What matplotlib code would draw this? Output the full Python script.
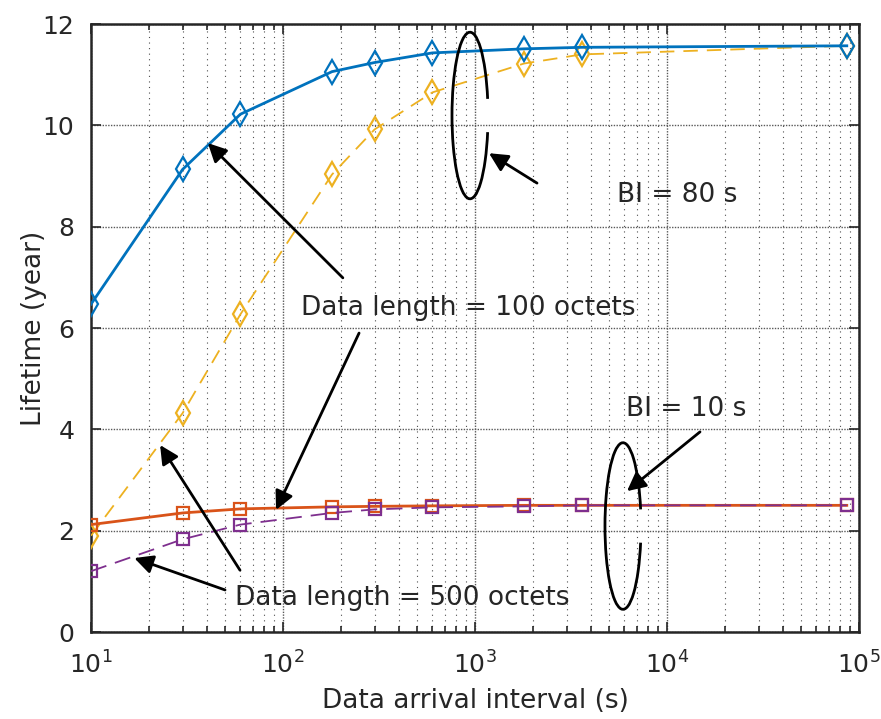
import matplotlib
matplotlib.use("Agg")
import matplotlib.pyplot as plt
from matplotlib.patches import Arc
from matplotlib.ticker import LogLocator, FixedLocator

plt.rcParams['font.family'] = ['DejaVu Sans']
plt.rcParams['mathtext.fontset'] = 'dejavusans'

interval = [10, 30, 60, 180, 300, 600, 1800, 3600, 86400]
bi80_len100 = [6.47, 9.13, 10.22, 11.06, 11.24, 11.43, 11.51, 11.54, 11.57]
bi80_len500 = [1.90, 4.32, 6.27, 9.03, 9.92, 10.65, 11.22, 11.40, 11.57]
bi10_len100 = [2.12, 2.35, 2.43, 2.47, 2.48, 2.49, 2.50, 2.50, 2.50]
bi10_len500 = [1.20, 1.83, 2.12, 2.35, 2.42, 2.46, 2.48, 2.50, 2.50]

fig = plt.figure(figsize=(8.81, 7.19), dpi=100)
ax = fig.add_axes([0.1033, 0.121, 0.8717, 0.8456])

ax.plot(interval, bi80_len100, '-', color='#0072BD', lw=2, marker='d', ms=12,
        mfc='none', mew=1.6, zorder=5)
ax.plot(interval, bi80_len500, color='#EDB120', lw=1.3, dashes=(8, 5), marker='d', ms=12,
        mfc='none', mew=1.6, zorder=4)
ax.plot(interval, bi10_len100, '-', color='#D95319', lw=2, marker='s', ms=8,
        mfc='none', mew=1.6, zorder=5)
ax.plot(interval, bi10_len500, color='#7E2F8E', lw=1.3, dashes=(9, 5), marker='s', ms=8,
        mfc='none', mew=1.6, zorder=6)

ax.set_xscale('log')
ax.set_xlim(10, 1e5)
ax.set_ylim(0, 12)
ax.yaxis.set_major_locator(FixedLocator([0, 2, 4, 6, 8, 10, 12]))
ax.set_xticks([10, 100, 1000, 10000, 100000])
ax.set_xticklabels(['$10^{1}$', '$10^{2}$', '$10^{3}$', '$10^{4}$', '$10^{5}$'])
ax.xaxis.set_minor_locator(LogLocator(base=10, subs=range(2, 10)))

ax.grid(True, which='major', color='0.35', linestyle=(0, (1, 1)), lw=1.0)
ax.grid(True, which='minor', axis='x', color='0.3', linestyle=(0, (1, 4)), lw=0.8)

ax.tick_params(which='both', direction='in', top=True, right=True, labelsize=18,
               colors='0.15', width=1.2)
ax.tick_params(which='major', length=7)
ax.tick_params(which='minor', length=4)
ax.tick_params(axis='x', pad=14)
ax.tick_params(axis='y', pad=12)
for s in ax.spines.values():
    s.set_linewidth(1.8)
    s.set_color('0.15')

ax.set_xlabel('Data arrival interval (s)', fontsize=19, color='0.15', labelpad=7)
ax.set_ylabel('Lifetime (year)', fontsize=19, color='0.15', labelpad=-3)

ap = dict(arrowstyle='-|>', mutation_scale=28, lw=2, color='k', shrinkA=0, shrinkB=0)
ax.annotate('', xy=(40.6, 9.65), xytext=(205, 6.99), arrowprops=ap, zorder=8)
ax.annotate('', xy=(1183, 9.45), xytext=(2104, 8.86), arrowprops=ap, zorder=8)
ax.annotate('', xy=(92, 2.41), xytext=(249, 5.90), arrowprops=ap, zorder=8)
ax.annotate('', xy=(22.9, 3.69), xytext=(59.7, 1.22), arrowprops=ap, zorder=8)
ax.annotate('', xy=(16.8, 1.46), xytext=(49.9, 0.83), arrowprops=ap, zorder=8)
ax.annotate('', xy=(6190, 2.78), xytext=(14860, 3.95), arrowprops=ap, zorder=8)

tkw = dict(fontsize=19, color='0.15', ha='center', va='center', zorder=9)
ax.text(920, 6.39, 'Data length = 100 octets', **tkw)
ax.text(11270, 8.62, 'BI = 80 s', **tkw)
ax.text(12560, 4.40, 'BI = 10 s', **tkw)
ax.text(417, 0.67, 'Data length = 500 octets', **tkw)

for cx, cy in [(0.4935, 0.8495), (0.6927, 0.1743)]:
    ax.add_patch(Arc((cx, cy), 0.0469, 0.274, theta1=50, theta2=310,
                     transform=ax.transAxes, color='k', lw=2, zorder=8))

fig.savefig('out.png', dpi=100)
